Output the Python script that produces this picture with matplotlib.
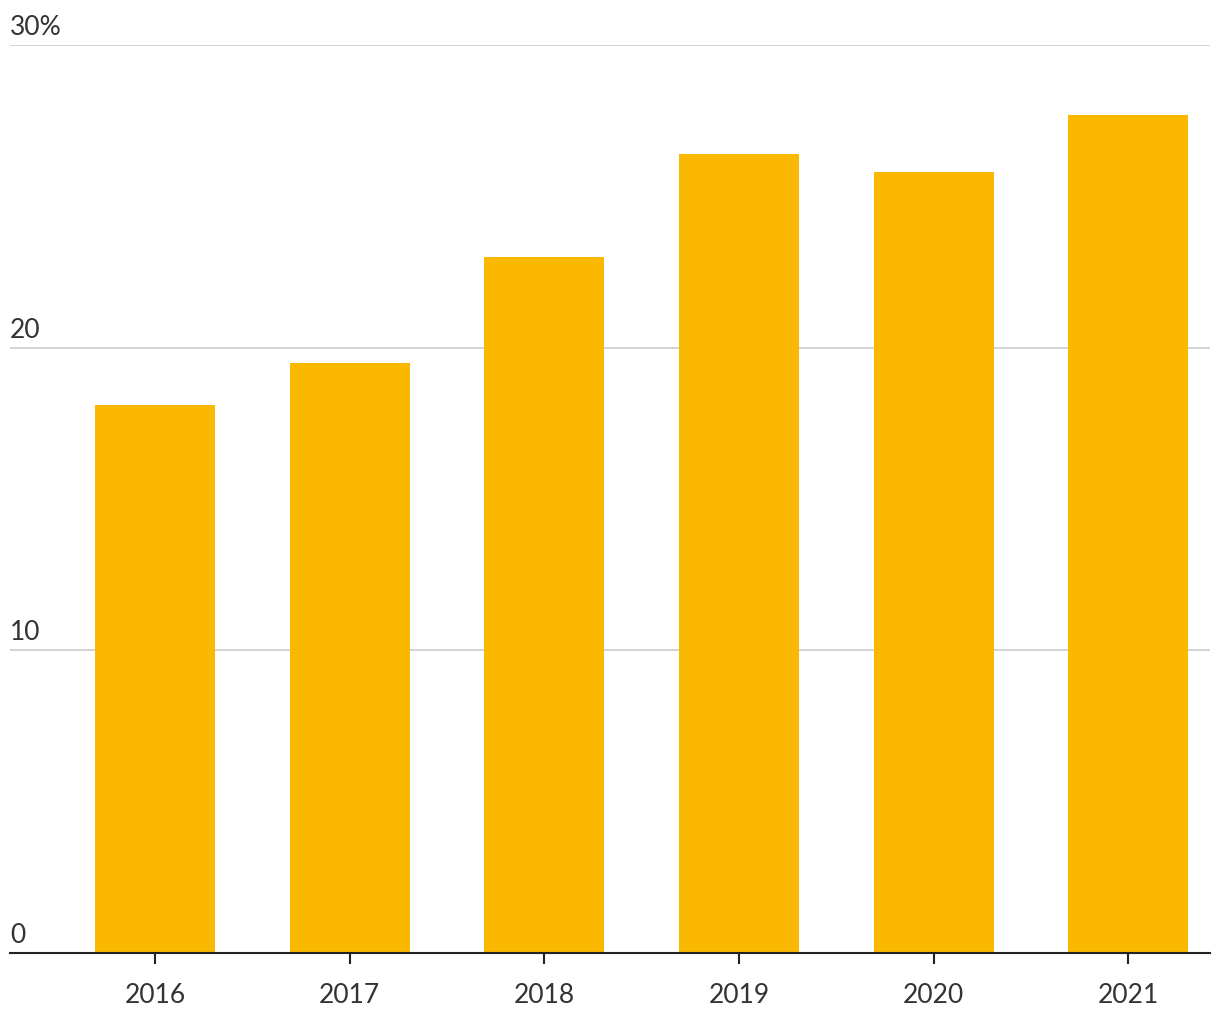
import matplotlib
matplotlib.use("Agg")
from matplotlib import pyplot as plt
from matplotlib import transforms

years = ["2016", "2017", "2018", "2019", "2020", "2021"]
shares = [18.1, 19.5, 23.0, 26.4, 25.8, 27.7]
y_ticks = [0, 10, 20, 30]
y_labels = ["0", "10", "20", "30%"]

plt.rcParams['font.family'] = ['Lato', 'DejaVu Sans']

fig = plt.figure(figsize=(12.2, 10.2), dpi=100)
ax = fig.add_axes([10 / 1220, 1 - 954 / 1020, 1200 / 1220, 908 / 1020])

x = list(range(len(years)))
ax.bar(x, shares, width=0.617, color="#FBB800", zorder=2)

ax.set_xlim(-0.745, 5.42)
ax.set_ylim(0, 30)

# gridlines with labels sitting above them
base = transforms.blended_transform_factory(ax.transAxes, ax.transData)
lift = transforms.offset_copy(base, fig=fig, x=0, y=6, units="dots")
for t, lab in zip(y_ticks, y_labels):
    if t > 0:
        ax.axhline(t, color="#cccccc", lw=1.2, zorder=1)
    ax.text(0, t, lab, transform=lift, ha="left", va="bottom",
            fontsize=19, color="#333333")

ax.set_yticks([])
ax.set_xticks(x)
ax.set_xticklabels(years, fontsize=19, color="#333333")
ax.tick_params(axis="x", length=8, width=1.5, color="#222222", pad=13)

for side in ["top", "right", "left"]:
    ax.spines[side].set_visible(False)
ax.spines["bottom"].set_linewidth(1.5)
ax.spines["bottom"].set_color("#222222")

fig.savefig("out.png", dpi=100)
